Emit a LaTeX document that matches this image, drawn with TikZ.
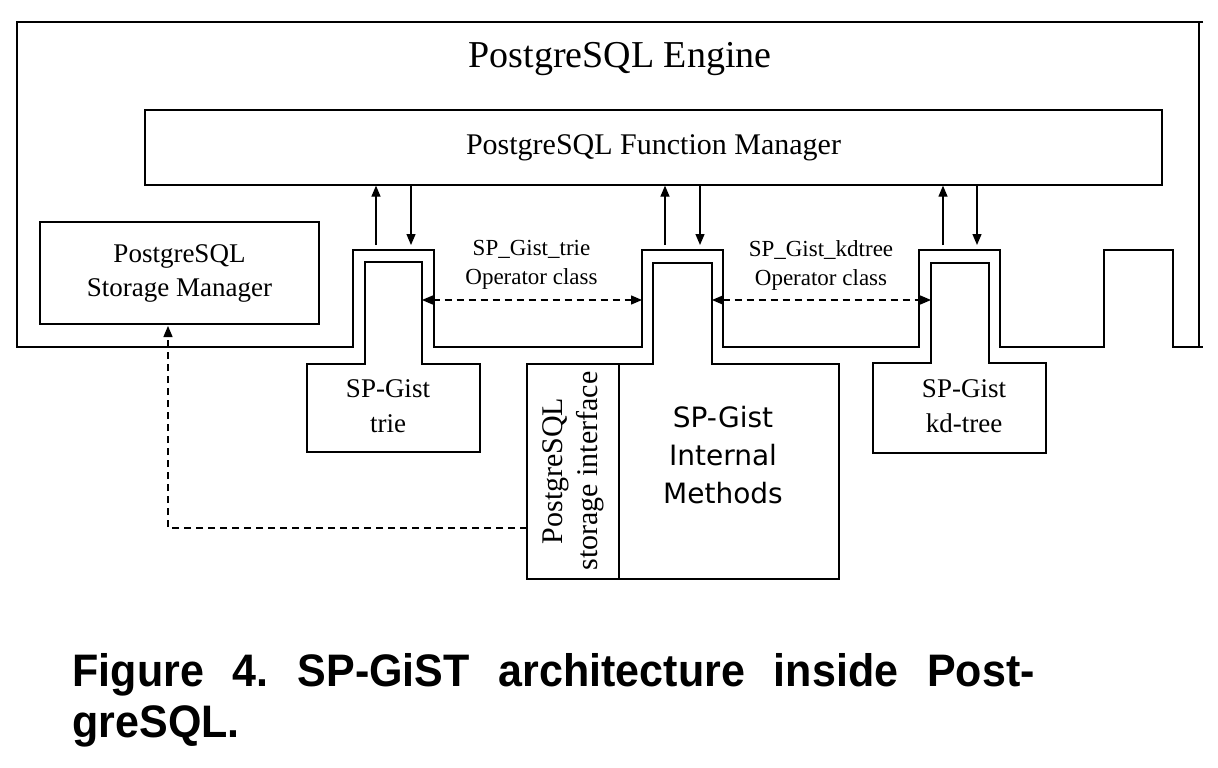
\documentclass[tikz,border=0pt]{standalone}
\usepackage{fontspec}
\setmainfont{Liberation Serif}
\newfontfamily\verdanafont{DejaVu Sans}
\newfontfamily\captionfont{Liberation Sans}
\usetikzlibrary{arrows.meta}
\frenchspacing
\tikzset{
  >={Triangle[length=11pt,width=9pt]},
  box/.style={draw, inner sep=0pt, align=center},
  lbl/.style={inner sep=0pt, align=center},
  dashln/.style={dash pattern=on 7pt off 5pt},
  captext/.style={anchor=base west, inner sep=0pt, yscale=1.06, font=\captionfont\bfseries\fontsize{43}{48}\selectfont},
}
\begin{document}
\begin{tikzpicture}[x=1pt, y=-1pt, line width=1.3pt]
        \useasboundingbox (0,0) rectangle (1218,768);
        \draw (1203,22) -- (17,22) -- (17,347) -- (353,347) -- (353,250) -- (434,250) -- (434,347)
            -- (642,347) -- (642,250) -- (723,250) -- (723,347) -- (919,347) -- (919,250) -- (1000,250)
            -- (1000,347) -- (1104,347) -- (1104,250) -- (1173,250) -- (1173,347) -- (1203,347);
        \draw (1199,22) -- (1199,347);
        \node [lbl, anchor=base, font=\fontsize{38}{46}\selectfont] (engine) at (620,67) {PostgreSQL Engine};
        \node [box, minimum width=1017pt, minimum height=75pt, font=\fontsize{30}{36}\selectfont] (fm) at (653.5,147.5) {PostgreSQL Function Manager};
        \node [box, minimum width=279pt, minimum height=102pt, font=\fontsize{27}{34}\selectfont] (sm) at (179.5,273) {PostgreSQL\\Storage Manager};
        \draw (307,452) -- (307,364) -- (365,364) -- (365,262) -- (422,262) -- (422,364) -- (480,364) -- (480,452) -- cycle;
        \node [lbl, font=\fontsize{27}{35}\selectfont] (trie) at (388,406) {SP-Gist\\trie};
        \draw (527,579) -- (527,364) -- (653,364) -- (653,263) -- (712,263) -- (712,364) -- (839,364) -- (839,579) -- cycle;
        \draw (619,364) -- (619,579);
        \node [lbl, rotate=90, font=\fontsize{30}{35}\selectfont] (sif) at (573,471) {PostgreSQL\\storage interface};
        \node [lbl, font=\verdanafont\fontsize{28}{38}\selectfont] (intl) at (723,455) {SP-Gist\\Internal\\Methods};
        \draw (873,453) -- (873,363) -- (931,363) -- (931,263) -- (989,263) -- (989,363) -- (1046,363) -- (1046,453) -- cycle;
        \node [lbl, font=\fontsize{27}{35}\selectfont] (kd) at (964,406) {SP-Gist\\kd-tree};
        \node [lbl, font=\fontsize{23}{29}\selectfont] (trieop) at (531.5,265) {SP\textunderscore Gist\textunderscore trie\\Operator class};
        \node [lbl, font=\fontsize{23}{29}\selectfont] (kdop) at (821,265) {SP\textunderscore Gist\textunderscore kdtree\\Operator class};
        \coordinate (trieUp) at (376,245);
        \coordinate (trieDn) at (411,245);
        \coordinate (intlUp) at (665,245);
        \coordinate (intlDn) at (700,245);
        \coordinate (kdUp) at (943,245);
        \coordinate (kdDn) at (977,245);
        \draw [->] (trieUp) -- (trieUp |- fm.south);
        \draw [->] (trieDn |- fm.south) -- (trieDn);
        \draw [->] (intlUp) -- (intlUp |- fm.south);
        \draw [->] (intlDn |- fm.south) -- (intlDn);
        \draw [->] (kdUp) -- (kdUp |- fm.south);
        \draw [->] (kdDn |- fm.south) -- (kdDn);
        \coordinate (trieR) at (422,300);
        \coordinate (intlL) at (642,300);
        \coordinate (intlR) at (712,300);
        \coordinate (kdL) at (931,300);
        \draw [dashln, <->] (trieR) -- (intlL);
        \draw [dashln, <->] (intlR) -- (kdL);
        \coordinate (sifW) at (527,528);
        \coordinate (smIn) at (168,326);
        \draw [dashln, ->] (sifW) -| (smIn);
        \node [captext] (cap1) at (72,686) {\makebox[962pt][s]{Figure 4. SP-GiST architecture inside Post-}};
        \node [captext] (cap2) at (72,737) {greSQL.};
    \end{tikzpicture}
\end{document}
